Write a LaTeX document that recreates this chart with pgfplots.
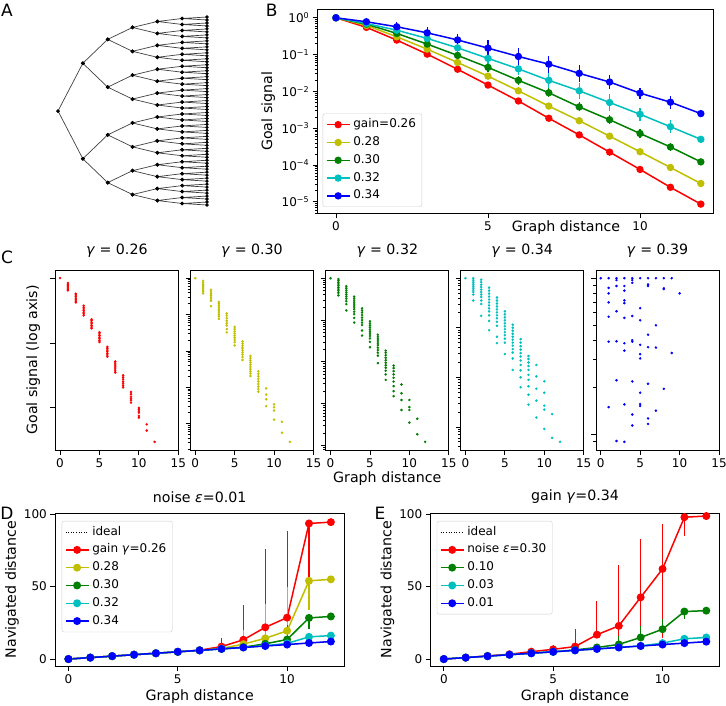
\documentclass[border=0pt]{standalone}
\usepackage{fontspec}
\setmainfont{DejaVu Sans}[ItalicFont={DejaVu Sans Oblique}]
\usepackage{pgfplots}
\usepackage{pgfplotstable}
\pgfplotsset{compat=1.18}
\definecolor{mr}{rgb}{1,0,0}
\definecolor{my}{rgb}{0.75,0.75,0}
\definecolor{mg}{rgb}{0,0.5,0}
\definecolor{mc}{rgb}{0,0.75,0.75}
\definecolor{mb}{rgb}{0,0,1}
\newcommand{\tfont}{\fontsize{12}{14}\selectfont}
\newcommand{\lfont}{\fontsize{14.2}{17}\selectfont}
\newcommand{\pfont}{\fontsize{17}{20}\selectfont}

% ---------- B data: x, mean goal signal, relative error plus/minus
\pgfplotstableread{
x y rp rm
0 1 0 0
1 0.55 0.12 0.11
2 0.248 0.148 0.129
3 0.103 0.148 0.129
4 0.040 0.148 0.129
5 0.0149 0.148 0.129
6 0.0055 0.148 0.129
7 0.00187 0.148 0.129
8 6.6e-4 0.148 0.129
9 2.25e-4 0.148 0.129
10 7.6e-5 0.148 0.129
11 2.49e-5 0.202 0.168
12 8.7e-6 0.122 0.109
}\tBr
\pgfplotstableread{
x y rp rm
0 1 0 0
1 0.62 0.122 0.109
2 0.305 0.202 0.168
3 0.141 0.202 0.168
4 0.061 0.202 0.168
5 0.026 0.202 0.168
6 0.0104 0.202 0.168
7 0.0040 0.202 0.168
8 0.0016 0.202 0.168
9 6.1e-4 0.202 0.168
10 2.3e-4 0.202 0.168
11 8.6e-5 0.259 0.206
12 3.16e-5 0.122 0.109
}\tBy
\pgfplotstableread{
x y rp rm
0 1 0 0
1 0.67 0.122 0.109
2 0.376 0.148 0.129
3 0.193 0.202 0.168
4 0.095 0.259 0.206
5 0.045 0.318 0.241
6 0.020 0.318 0.241
7 0.0092 0.318 0.241
8 0.0038 0.318 0.241
9 0.0017 0.318 0.241
10 7.2e-4 0.318 0.241
11 3.1e-4 0.318 0.241
12 1.22e-4 0.122 0.109
}\tBg
\pgfplotstableread{
x y rp rm
0 1 0 0
1 0.70 0.122 0.109
2 0.46 0.202 0.168
3 0.275 0.259 0.206
4 0.153 0.380 0.276
5 0.079 0.380 0.276
6 0.041 0.514 0.339
7 0.020 0.585 0.369
8 0.0104 0.660 0.397
9 0.0050 0.660 0.397
10 0.0024 0.514 0.339
11 0.0011 0.514 0.339
12 5.0e-4 0.122 0.109
}\tBc
\pgfplotstableread{
x y rp rm
0 1 0 0
1 0.78 0.122 0.109
2 0.57 0.380 0.276
3 0.39 0.479 0.324
4 0.25 0.479 0.324
5 0.15 0.698 0.411
6 0.089 0.698 0.411
7 0.055 0.698 0.411
8 0.031 0.698 0.411
9 0.018 0.585 0.369
10 0.0090 0.413 0.292
11 0.0051 0.514 0.339
12 0.0025 0.122 0.109
}\tBb

% ---------- D data
\pgfplotstableread{
x ide red rp rm yel yp ym grn gp gm cya cp cm blu
0 0 0 0 0 0 0 0 0 0 0 0 0 0 0
1 1 1 0 0 1 0 0 1 0 0 1 0 0 1
2 2 2 0 0 2 0 0 2 0 0 2 0 0 2
3 3 3 0 0 3 0 0 3 0 0 3 0 0 3
4 4 4 0 0 4 0 0 4 0 0 4 0 0 4
5 5 5 0 0 5 0 0 5 0 0 5 0 0 5
6 6 6.1 0.5 0 6 0 0 6 0 0 6 0 0 6
7 7 8.6 5.7 0.5 7.3 1 0 7 0 0 7 0 0 7
8 8 13.3 24 1.5 10.3 10 0 8.2 0.5 0 8 0 0 8
9 9 21.9 54 2 14.3 24 0 10.5 3 0 9.2 0 0 9
10 10 28.6 60 2 19.5 30 0 13.5 10 0 10.8 0 0 10
11 11 93.6 0 40 54 0 20 28.4 0 7.5 15.3 0 1.5 11.1
12 12 94.5 0 0 55 0 0 29.4 0 0 16.2 0 0 12.1
}\tD
% ---------- E data
\pgfplotstableread{
x ide red rp rm grn gp gm cya blu
0 0 0 0 0 0 0 0 0 0
1 1 1 0 0 1 0 0 1 1
2 2 2.2 0 0 2 0 0 2 2
3 3 3.3 0 0 3 0 0 3 3
4 4 5.1 1 0 4 0 0 4 4
5 5 6.7 3.2 0 5 0 0 5 5
6 6 8.6 12 0 6.3 0 0 6 6
7 7 16.8 23.3 0 8 2 0 7 7
8 8 22.9 42 12 10.1 6 0 8 8
9 9 42.6 40 30 14.9 8 0 9.1 9
10 10 62.2 31 48 20.6 7 0 11 10
11 11 97.9 0 13 32.8 0 5 14 11
12 12 98.7 0 0 33.4 0 0 14.9 12
}\tE

\pgfplotsset{
  mpl/.style={scale only axis, anchor=south west,
    tick align=outside, tick pos=left,
    major tick length=4.9pt, minor tick length=2.8pt,
    every tick/.style={black, line width=0.8pt},
    axis line style={line width=0.8pt},
    tick label style={font=\tfont},
    label style={font=\lfont},
    title style={font=\lfont, yshift=0pt},
    /pgf/number format/assume math mode=true,
    legend cell align=left,
    legend image code/.code={\draw[mark repeat=2,mark phase=2,##1] plot coordinates {(0pt,0pt) (11.5pt,0pt) (23pt,0pt)};},
    legend style={draw=black!20, rounded corners=2pt, fill=white, font=\tfont,
      nodes={inner sep=2.9pt, text height=9pt, text depth=3pt}},
  },
  ser/.style={#1, line width=1.5pt, mark=*, mark options={solid, fill=#1}},
  ebar/.style={error bars/.cd, y dir=both, y explicit, error mark=none,
     error bar style={line width=1.1pt}},
  ebarrel/.style={error bars/.cd, y dir=both, y explicit relative, error mark=none,
     error bar style={line width=1.1pt}},
  cax/.style={mpl, width=123pt, height=180pt, xmin=-0.6, xmax=15, xtick={0,5,10,15},
     yticklabels={}, title style={at={(axis description cs:0.5,1.072)}, anchor=center, yshift=0pt}},
  cpt/.style={only marks, mark=*, mark size=1.05pt, #1, mark options={fill=#1, draw=#1}},
  tree/.style={black!75, line width=0.7pt, mark=*, mark size=1.5pt, mark options={black, fill=black}},
  logminor/.style={minor ytick={-4.699,-4.523,-4.398,-4.301,-4.222,-4.155,-4.097,-4.046,
     -3.699,-3.523,-3.398,-3.301,-3.222,-3.155,-3.097,-3.046,
     -2.699,-2.523,-2.398,-2.301,-2.222,-2.155,-2.097,-2.046,
     -1.699,-1.523,-1.398,-1.301,-1.222,-1.155,-1.097,-1.046,
     -0.699,-0.523,-0.398,-0.301,-0.222,-0.155,-0.097,-0.046}},
  dax/.style={mpl, width=288.7pt, height=153pt,
     xmin=-0.6, xmax=12.6, ymin=-4.8, ymax=100.8, xtick={0,5,10}, ytick={0,50,100},
     xlabel style={at={(axis description cs:0.5,-0.203)}, anchor=center},
     title style={at={(axis description cs:0.5,1.066)}, anchor=center, yshift=0pt},
     mark size=3.2pt},
}

\begin{document}
\begin{tikzpicture}
\path[use as bounding box] (0pt,0pt) rectangle (726pt,-706pt);

% ================= A: binary tree =================
\begin{axis}[at={(58pt,-205pt)}, anchor=south west, scale only axis, width=149pt, height=188pt,
  xmin=0, xmax=6, ymin=0, ymax=63, y dir=reverse, hide axis, clip=false, unbounded coords=jump]
\addplot[tree] coordinates {(1,15.5)(0,31.5)(1,47.5)};
\addplot[tree] coordinates {(2,7.5)(1,15.5)(2,23.5) (nan,nan) (2,39.5)(1,47.5)(2,55.5)};
\addplot[tree] coordinates {(3,3.5)(2,7.5)(3,11.5) (nan,nan) (3,19.5)(2,23.5)(3,27.5) (nan,nan)
  (3,35.5)(2,39.5)(3,43.5) (nan,nan) (3,51.5)(2,55.5)(3,59.5)};
\addplot[tree] coordinates {(4,1.5)(3,3.5)(4,5.5) (nan,nan) (4,9.5)(3,11.5)(4,13.5) (nan,nan)
  (4,17.5)(3,19.5)(4,21.5) (nan,nan) (4,25.5)(3,27.5)(4,29.5) (nan,nan)
  (4,33.5)(3,35.5)(4,37.5) (nan,nan) (4,41.5)(3,43.5)(4,45.5) (nan,nan)
  (4,49.5)(3,51.5)(4,53.5) (nan,nan) (4,57.5)(3,59.5)(4,61.5)};
\addplot[tree] coordinates {(5,0.5)(4,1.5)(5,2.5) (nan,nan) (5,4.5)(4,5.5)(5,6.5) (nan,nan)
  (5,8.5)(4,9.5)(5,10.5) (nan,nan) (5,12.5)(4,13.5)(5,14.5) (nan,nan)
  (5,16.5)(4,17.5)(5,18.5) (nan,nan) (5,20.5)(4,21.5)(5,22.5) (nan,nan)
  (5,24.5)(4,25.5)(5,26.5) (nan,nan) (5,28.5)(4,29.5)(5,30.5) (nan,nan)
  (5,32.5)(4,33.5)(5,34.5) (nan,nan) (5,36.5)(4,37.5)(5,38.5) (nan,nan)
  (5,40.5)(4,41.5)(5,42.5) (nan,nan) (5,44.5)(4,45.5)(5,46.5) (nan,nan)
  (5,48.5)(4,49.5)(5,50.5) (nan,nan) (5,52.5)(4,53.5)(5,54.5) (nan,nan)
  (5,56.5)(4,57.5)(5,58.5) (nan,nan) (5,60.5)(4,61.5)(5,62.5)};
\addplot[tree, mark size=1.3pt] coordinates {(6,0)(5,0.5)(6,1)(6,2)(5,2.5)(6,3)(6,4)(5,4.5)(6,5)(6,6)(5,6.5)(6,7)
  (6,8)(5,8.5)(6,9)(6,10)(5,10.5)(6,11)(6,12)(5,12.5)(6,13)(6,14)(5,14.5)(6,15)
  (6,16)(5,16.5)(6,17)(6,18)(5,18.5)(6,19)(6,20)(5,20.5)(6,21)(6,22)(5,22.5)(6,23)
  (6,24)(5,24.5)(6,25)(6,26)(5,26.5)(6,27)(6,28)(5,28.5)(6,29)(6,30)(5,30.5)(6,31)
  (6,32)(5,32.5)(6,33)(6,34)(5,34.5)(6,35)(6,36)(5,36.5)(6,37)(6,38)(5,38.5)(6,39)
  (6,40)(5,40.5)(6,41)(6,42)(5,42.5)(6,43)(6,44)(5,44.5)(6,45)(6,46)(5,46.5)(6,47)
  (6,48)(5,48.5)(6,49)(6,50)(5,50.5)(6,51)(6,52)(5,52.5)(6,53)(6,54)(5,54.5)(6,55)
  (6,56)(5,56.5)(6,57)(6,58)(5,58.5)(6,59)(6,60)(5,60.5)(6,61)(6,62)(5,62.5)(6,63)};
\end{axis}

% ================= B =================
\begin{axis}[mpl, at={(317.7pt,-213.3pt)}, width=395.3pt, height=204pt,
  ymode=log, xmin=-0.6, xmax=12.4, ymin=4.9e-6, ymax=1.7,
  xtick={0,5,10},
  ytick={1e-5,1e-4,1e-3,1e-2,1e-1,1},
  yticklabels={10\textsuperscript{−5},10\textsuperscript{−4},10\textsuperscript{−3},10\textsuperscript{−2},10\textsuperscript{−1},10\textsuperscript{0}},
  minor ytick={5e-6,6e-6,7e-6,8e-6,9e-6,2e-5,3e-5,4e-5,5e-5,6e-5,7e-5,8e-5,9e-5,
    2e-4,3e-4,4e-4,5e-4,6e-4,7e-4,8e-4,9e-4,2e-3,3e-3,4e-3,5e-3,6e-3,7e-3,8e-3,9e-3,
    0.02,0.03,0.04,0.05,0.06,0.07,0.08,0.09,0.2,0.3,0.4,0.5,0.6,0.7,0.8,0.9},
  xlabel={Graph distance}, ylabel={Goal signal},
  xlabel style={at={(axis description cs:0.628,-0.0706)}, anchor=center},
  ylabel style={at={(axis description cs:-0.125,0.5)}, anchor=center},
  legend style={at={(0.0126,0.031)}, anchor=south west},
  mark size=2.9pt]
\addplot[ser=mr, ebarrel] table[x=x, y=y, y error plus=rp, y error minus=rm] {\tBr};
\addlegendentry{gain=0.26}
\addplot[ser=my, ebarrel] table[x=x, y=y, y error plus=rp, y error minus=rm] {\tBy};
\addlegendentry{0.28}
\addplot[ser=mg, ebarrel] table[x=x, y=y, y error plus=rp, y error minus=rm] {\tBg};
\addlegendentry{0.30}
\addplot[ser=mc, ebarrel] table[x=x, y=y, y error plus=rp, y error minus=rm] {\tBc};
\addlegendentry{0.32}
\addplot[ser=mb, ebarrel] table[x=x, y=y, y error plus=rp, y error minus=rm] {\tBb};
\addlegendentry{0.34}
\end{axis}

% ================= C (y values are log10 of the goal signal) =================
\begin{axis}[cax, at={(55.3pt,-450pt)}, ymin=-5.30, ymax=0.25, ytick={-4,-2,0},
  title={\textit{γ} = 0.26}, ylabel={Goal signal (log axis)},
  ylabel style={at={(axis description cs:-0.18,0.5)}, anchor=center}]
\addplot[cpt=mr] coordinates {(0,0)
(1,-0.15)(1,-0.19)(1,-0.23)(1,-0.27)(1,-0.31)(1,-0.35)(1,-0.38)
(2,-0.48)(2,-0.52)(2,-0.57)(2,-0.62)(2,-0.67)(2,-0.71)(2,-0.75)
(3,-0.85)(3,-0.90)(3,-0.95)(3,-1.00)(3,-1.05)(3,-1.10)(3,-1.15)
(4,-1.27)(4,-1.31)(4,-1.36)(4,-1.41)(4,-1.46)(4,-1.51)(4,-1.55)
(5,-1.67)(5,-1.72)(5,-1.77)(5,-1.82)(5,-1.87)(5,-1.92)(5,-1.97)
(6,-2.12)(6,-2.17)(6,-2.22)(6,-2.27)(6,-2.32)(6,-2.37)(6,-2.42)
(7,-2.57)(7,-2.62)(7,-2.68)(7,-2.74)(7,-2.80)(7,-2.86)(7,-2.91)
(8,-3.00)(8,-3.06)(8,-3.12)(8,-3.19)(8,-3.25)(8,-3.31)(8,-3.37)
(9,-3.51)(9,-3.58)(9,-3.66)(9,-3.72)(9,-3.77)(9,-3.84)
(10,-4.00)(10,-4.05)(10,-4.10)(10,-4.15)(10,-4.25)(10,-4.30)
(11,-4.51)(11,-4.70)
(12,-5.05)};
\end{axis}

\begin{axis}[cax, logminor, at={(190.5pt,-450pt)}, ymin=-4.725, ymax=0.225, ytick={-4,-3,-2,-1,0},
  title={\textit{γ} = 0.30}]
\addplot[cpt=my] coordinates {(0,0)
(1,-0.07)(1,-0.12)(1,-0.17)(1,-0.21)(1,-0.25)(1,-0.29)(1,-0.33)(1,-0.37)(1,-0.42)
(2,-0.32)(2,-0.37)(2,-0.42)(2,-0.47)(2,-0.52)(2,-0.57)(2,-0.62)(2,-0.77)
(3,-0.65)(3,-0.70)(3,-0.75)(3,-0.80)(3,-0.85)(3,-0.90)(3,-0.95)(3,-1.00)(3,-1.05)(3,-1.12)
(4,-0.97)(4,-1.03)(4,-1.10)(4,-1.17)(4,-1.24)(4,-1.30)(4,-1.40)(4,-1.49)
(5,-1.34)(5,-1.40)(5,-1.46)(5,-1.52)(5,-1.58)(5,-1.64)(5,-1.70)(5,-1.76)(5,-1.85)
(6,-1.74)(6,-1.80)(6,-1.86)(6,-1.92)(6,-1.98)(6,-2.04)(6,-2.10)(6,-2.17)(6,-2.25)
(7,-2.14)(7,-2.20)(7,-2.26)(7,-2.32)(7,-2.38)(7,-2.44)(7,-2.50)(7,-2.56)(7,-2.62)(7,-2.69)
(8,-2.56)(8,-2.63)(8,-2.70)(8,-2.77)(8,-2.84)(8,-2.91)(8,-2.98)(8,-3.05)(8,-3.12)
(9,-3.03)(9,-3.20)(9,-3.33)(9,-3.52)
(10,-3.47)(10,-3.55)(10,-3.64)(10,-3.89)
(11,-3.95)(11,-4.25)
(12,-4.5)};
\end{axis}

\begin{axis}[cax, logminor, at={(325.8pt,-450pt)}, ymin=-4.106, ymax=0.196, ytick={-4,-3,-2,-1,0},
  title={\textit{γ} = 0.32}, xlabel={Graph distance},
  xlabel style={at={(axis description cs:0.5,-0.156)}, anchor=center}]
\addplot[cpt=mg] coordinates {(0,0)
(1,-0.02)(1,-0.06)(1,-0.10)(1,-0.14)(1,-0.18)(1,-0.22)(1,-0.26)(1,-0.30)(1,-0.35)(1,-0.41)
(2,-0.19)(2,-0.24)(2,-0.29)(2,-0.34)(2,-0.39)(2,-0.44)(2,-0.49)(2,-0.55)(2,-0.62)(2,-0.77)
(3,-0.44)(3,-0.49)(3,-0.54)(3,-0.59)(3,-0.64)(3,-0.69)(3,-0.74)(3,-0.80)(3,-0.86)(3,-0.95)(3,-1.06)
(4,-0.72)(4,-0.77)(4,-0.82)(4,-0.88)(4,-0.94)(4,-1.00)(4,-1.06)(4,-1.12)(4,-1.25)(4,-1.37)
(5,-1.03)(5,-1.08)(5,-1.13)(5,-1.18)(5,-1.23)(5,-1.28)(5,-1.33)(5,-1.38)(5,-1.44)(5,-1.52)(5,-1.65)
(6,-1.35)(6,-1.40)(6,-1.45)(6,-1.50)(6,-1.55)(6,-1.60)(6,-1.66)(6,-1.72)(6,-1.78)(6,-1.85)(6,-2.03)
(7,-1.73)(7,-1.78)(7,-1.84)(7,-1.90)(7,-1.96)(7,-2.02)(7,-2.08)(7,-2.14)(7,-2.21)(7,-2.30)(7,-2.43)
(8,-2.09)(8,-2.15)(8,-2.22)(8,-2.30)(8,-2.38)(8,-2.47)(8,-2.58)(8,-2.70)(8,-2.82)
(9,-2.54)(9,-2.75)(9,-2.91)(9,-3.15)
(10,-2.91)(10,-3.08)(10,-3.15)(10,-3.45)
(11,-3.36)(11,-3.73)
(12,-3.91)};
\end{axis}

\begin{axis}[cax, logminor, at={(460.7pt,-450pt)}, ymin=-3.465, ymax=0.165, ytick={-3,-2,-1,0},
  title={\textit{γ} = 0.34}]
\addplot[cpt=mc] coordinates {(0,0)
(1,0)(1,-0.04)(1,-0.08)(1,-0.12)(1,-0.16)(1,-0.20)(1,-0.24)(1,-0.28)(1,-0.33)(1,-0.45)
(2,-0.03)(2,-0.08)(2,-0.13)(2,-0.18)(2,-0.23)(2,-0.28)(2,-0.33)(2,-0.38)(2,-0.45)(2,-0.52)(2,-0.76)
(3,-0.19)(3,-0.25)(3,-0.31)(3,-0.37)(3,-0.43)(3,-0.49)(3,-0.55)(3,-0.61)(3,-0.67)(3,-0.75)(3,-0.86)(3,-1.05)
(4,-0.39)(4,-0.45)(4,-0.51)(4,-0.57)(4,-0.63)(4,-0.69)(4,-0.75)(4,-0.81)(4,-0.88)(4,-0.96)(4,-1.18)(4,-1.31)
(5,-0.67)(5,-0.73)(5,-0.79)(5,-0.85)(5,-0.91)(5,-0.97)(5,-1.03)(5,-1.09)(5,-1.15)(5,-1.22)(5,-1.30)(5,-1.53)
(6,-0.94)(6,-1.00)(6,-1.06)(6,-1.12)(6,-1.18)(6,-1.24)(6,-1.30)(6,-1.36)(6,-1.43)(6,-1.50)(6,-1.62)(6,-1.85)
(7,-1.23)(7,-1.30)(7,-1.37)(7,-1.44)(7,-1.51)(7,-1.58)(7,-1.66)(7,-1.75)(7,-1.86)(7,-2.00)(7,-2.20)
(8,-1.57)(8,-1.63)(8,-1.70)(8,-1.77)(8,-1.85)(8,-1.95)(8,-2.05)(8,-2.18)(8,-2.35)(8,-2.55)
(9,-1.75)(9,-1.98)(9,-2.23)(9,-2.47)(9,-2.81)
(10,-2.08)(10,-2.31)(10,-2.57)(10,-2.65)(10,-3.04)
(11,-2.74)(11,-3.22)
(12,-3.30)};
\end{axis}

\begin{axis}[cax, at={(596pt,-450pt)}, ymin=-1.1025, ymax=0.0525, ytick={-1,0},
  minor ytick={-1.046,-0.699,-0.523,-0.398,-0.301,-0.222,-0.155,-0.097,-0.046},
  title={\textit{γ} = 0.39}]
\addplot[cpt=mb] coordinates {(0,0)
(1,0)(1,-0.0625)(1,-0.0975)(1,-0.155)(1,-0.2475)(1,-0.4075)(1,-0.8275)
(2,0)(2,-0.0125)(2,-0.05)(2,-0.2125)(2,-0.405)(2,-0.655)(2,-1.045)
(3,0)(3,-0.05)(3,-0.08)(3,-0.1425)(3,-0.16)(3,-0.255)(3,-0.4175)(3,-0.465)(3,-0.81)(3,-1.05)
(4,0)(4,-0.0125)(4,-0.03)(4,-0.2425)(4,-0.3975)(4,-0.4075)(4,-0.6625)(4,-0.875)(4,-0.945)
(5,0)(5,-0.1925)(5,-0.27)(5,-0.4275)(5,-0.4875)(5,-0.515)(5,-0.735)(5,-0.8075)(5,-0.82)
(6,0)(6,-0.04)(6,-0.05)(6,-0.3625)(6,-0.4425)(6,-0.6775)(6,-0.9)(6,-0.935)
(7,0)(7,-0.3025)(7,-0.445)(7,-0.85)
(8,0)(8,-0.065)(8,-0.07)(8,-0.71)
(9,0)(9,-0.48)
(10,-0.0975)};
\end{axis}

% ================= D =================
\begin{axis}[dax, at={(55.3pt,-666pt)},
  xlabel={Graph distance}, ylabel={Navigated distance}, title={noise \textit{ε}=0.01},
  ylabel style={at={(axis description cs:-0.15,0.5)}, anchor=center},
  legend style={at={(0.022,0.948)}, anchor=north west}]
\addplot[black, line width=1pt, dash pattern=on 1pt off 1.6pt] table[x=x, y=ide] {\tD};
\addlegendentry{ideal}
\addplot[ser=mr, ebar] table[x=x, y=red, y error plus=rp, y error minus=rm] {\tD};
\addlegendentry{gain \textit{γ}=0.26}
\addplot[ser=my, ebar] table[x=x, y=yel, y error plus=yp, y error minus=ym] {\tD};
\addlegendentry{0.28}
\addplot[ser=mg, ebar] table[x=x, y=grn, y error plus=gp, y error minus=gm] {\tD};
\addlegendentry{0.30}
\addplot[ser=mc, ebar] table[x=x, y=cya, y error plus=cp, y error minus=cm] {\tD};
\addlegendentry{0.32}
\addplot[ser=mb] table[x=x, y=blu] {\tD};
\addlegendentry{0.34}
\end{axis}

% ================= E =================
\begin{axis}[dax, at={(430.7pt,-666pt)},
  xlabel={Graph distance}, ylabel={Navigated distance}, title={gain \textit{γ}=0.34},
  ylabel style={at={(axis description cs:-0.150,0.5)}, anchor=center},
  legend style={at={(0.021,0.948)}, anchor=north west}]
\addplot[black, line width=1pt, dash pattern=on 1pt off 1.6pt] table[x=x, y=ide] {\tE};
\addlegendentry{ideal}
\addplot[ser=mr, ebar] table[x=x, y=red, y error plus=rp, y error minus=rm] {\tE};
\addlegendentry{noise \textit{ε}=0.30}
\addplot[ser=mg, ebar] table[x=x, y=grn, y error plus=gp, y error minus=gm] {\tE};
\addlegendentry{0.10}
\addplot[ser=mc] table[x=x, y=cya] {\tE};
\addlegendentry{0.03}
\addplot[ser=mb] table[x=x, y=blu] {\tE};
\addlegendentry{0.01}
\end{axis}

% panel letters
\node[font=\pfont] at (7pt,-10pt) {A};
\node[font=\pfont] at (271.7pt,-10pt) {B};
\node[font=\pfont] at (7pt,-257pt) {C};
\node[font=\pfont] at (7pt,-513pt) {D};
\node[font=\pfont] at (380pt,-513pt) {E};
\end{tikzpicture}
\end{document}
